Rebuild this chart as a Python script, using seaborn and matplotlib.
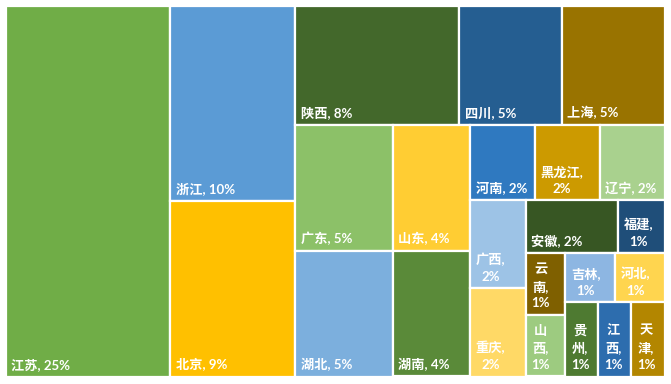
import matplotlib
matplotlib.use("Agg")
import matplotlib.pyplot as plt
from matplotlib.patches import Rectangle
import pandas as pd
import seaborn as sns

# data: number of records per province (labels show share of total)
provinces = ["江苏", "浙江", "北京", "陕西", "四川", "上海", "广东", "湖北", "山东", "湖南",
             "河南", "黑龙江", "辽宁", "广西", "重庆", "安徽", "福建", "云南", "山西", "吉林",
             "河北", "贵州", "江西", "天津"]
counts = [50, 20, 18, 16, 10, 10, 10, 10, 8, 8,
          4, 4, 4, 4, 4, 4, 2, 2, 2, 2,
          2, 2, 2, 2]

# Excel-like palette (green / blue / gold and their shades), one per province
palette = ["#70AD47", "#5B9BD5", "#FFC000", "#43682B", "#255E91", "#997300",
           "#8CC168", "#7CAFDD", "#FFCD33", "#5A8A39", "#2F79C0", "#CC9A00",
           "#A9D18E", "#9DC3E6", "#FFD966", "#375623", "#1F4E79", "#7F6000",
           "#9DCB80", "#8DB6E2", "#FFD54F", "#4E7A31", "#2D6DAE", "#B38600"]

FS = 9.5
PAD = 5.5


def strip_layout(sizes, x, y, w, h, max_flat=1.3):
    # strip treemap: strips along the shorter side, grow a strip while no
    # item gets flatter than max_flat; the last few items are sliced
    rects = []
    sizes = list(sizes)
    n = len(sizes)
    i = 0
    while i < n:
        rest = sizes[i:]
        scale = w * h / sum(rest)
        if len(rest) <= 3:
            for s in rest:
                if w >= h:
                    dw = s * scale / h
                    rects.append((x, y, dw, h))
                    x += dw
                else:
                    dh = s * scale / w
                    rects.append((x, y, w, dh))
                    y += dh
            break
        vertical = w >= h
        side = h if vertical else w
        k = 1
        while i + k < n:
            cand = sizes[i:i + k + 1]
            thick = sum(cand) * scale / side
            shortest = min(cand) * scale / thick
            if thick / shortest > max_flat:
                break
            k += 1
        strip = sizes[i:i + k]
        thick = sum(strip) * scale / side
        pos = y if vertical else x
        for s in strip:
            length = s * scale / thick
            if vertical:
                rects.append((x, pos, thick, length))
            else:
                rects.append((pos, y, length, thick))
            pos += length
        if vertical:
            x += thick
            w -= thick
        else:
            y += thick
            h -= thick
        i += k
    return rects


df = pd.DataFrame({"province": provinces, "count": counts, "color": palette})
df = df.sort_values("count", ascending=False, kind="stable").reset_index(drop=True)
df["pct"] = df["count"] / df["count"].sum() * 100

sns.set_theme(style="white")
plt.rcParams["font.family"] = ["Lato", "Noto Sans CJK SC", "DejaVu Sans"]

fig = plt.figure(figsize=(6.71, 3.84), dpi=100)
ax = fig.add_axes([5.5 / 671, 7.5 / 384, 659 / 671, 371 / 384])
renderer = fig.canvas.get_renderer()
bbox = ax.get_window_extent(renderer)
W, H = bbox.width, bbox.height
ax.set_xlim(0, W)
ax.set_ylim(H, 0)
ax.axis("off")


def text_width(s):
    t = ax.text(0, 0, s, fontsize=FS, fontweight="bold")
    wd = t.get_window_extent(renderer).width
    t.remove()
    return wd


def wrap_label(name, pct, avail):
    full = f"{name}, {pct}"
    if text_width(full) <= avail:
        return [full]
    head = name + ","
    if text_width(head) <= avail:
        return [head, pct]
    lines, cur = [], ""
    chars = list(name)
    for j, ch in enumerate(chars):
        piece = ch + ("," if j == len(chars) - 1 else "")
        if cur and text_width(cur + piece) > avail:
            lines.append(cur)
            cur = piece
        else:
            cur += piece
    lines.append(cur)
    return lines + [pct]


rects = strip_layout(df["count"], 0, 0, W, H)
for (rx, ry, rw, rh), row in zip(rects, df.itertuples()):
    ax.add_patch(Rectangle((rx, ry), rw, rh, facecolor=row.color,
                           edgecolor="white", linewidth=1.6))
    lines = wrap_label(row.province, f"{row.pct:.0f}%", rw - 2.2 * PAD)
    ax.text(rx + PAD, ry + rh - PAD, "\n".join(lines), ha="left", va="bottom",
            multialignment="center", color="white", fontsize=FS,
            fontweight="bold", linespacing=1.45)

fig.savefig("out.png", dpi=100)
